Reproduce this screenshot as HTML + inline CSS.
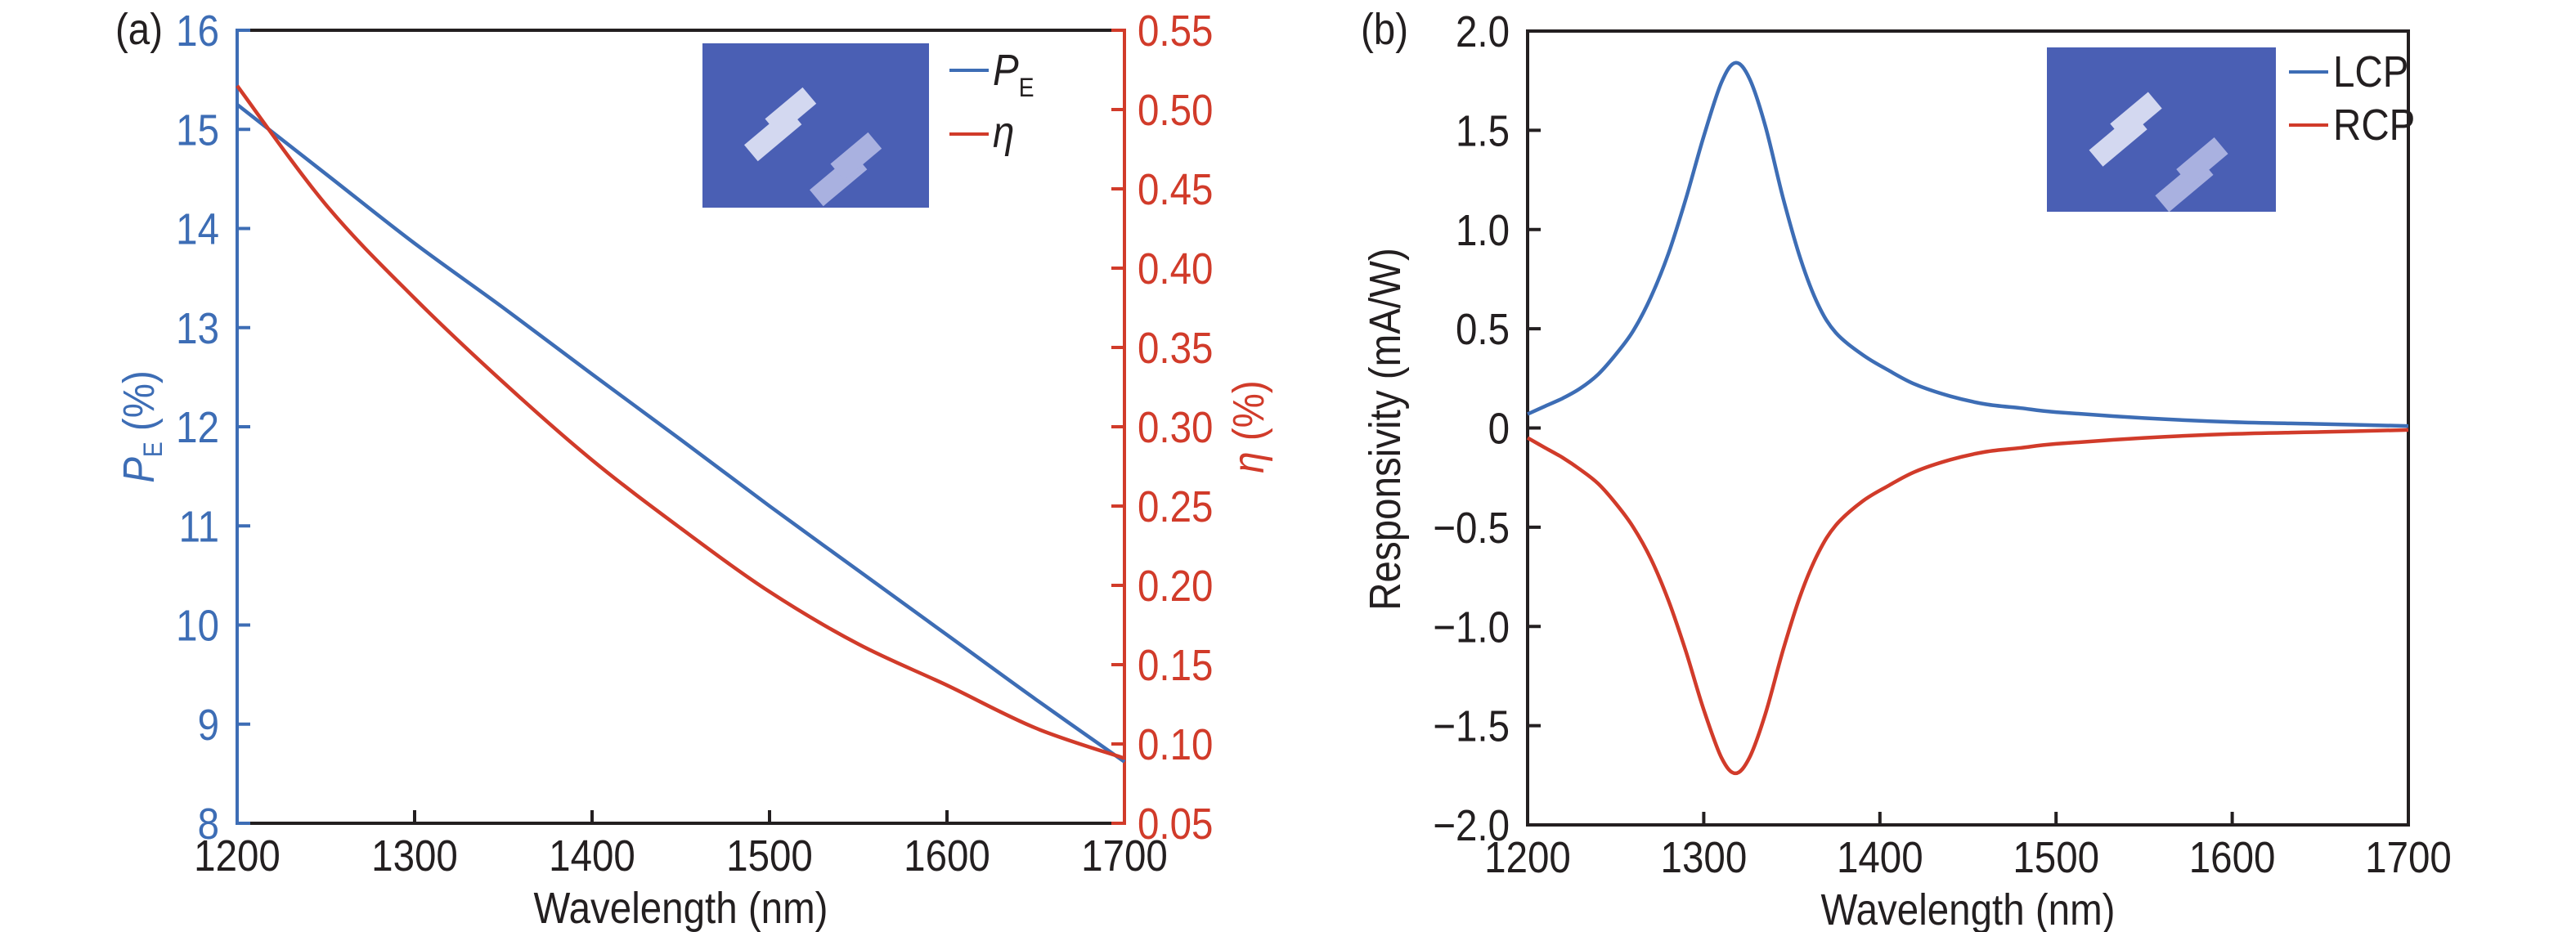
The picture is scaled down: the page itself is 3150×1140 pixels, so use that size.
<!DOCTYPE html>
<html><head><meta charset="utf-8"><style>
html,body{margin:0;padding:0;background:#fff;}
svg{display:block;font-family:"Liberation Sans Narrow","Liberation Sans",sans-serif;}
</style></head><body>
<svg id="fig" width="3150" height="1140" viewBox="0 0 3150 1140" xmlns="http://www.w3.org/2000/svg">
<g id="pa"></g>
<g id="pb"></g>
</svg>
<script>
// Panel (a) data
const wlA = [1200,1250,1300,1350,1400,1450,1500,1550,1600,1650,1700];
const peValues = [15.25,14.55,13.85,13.2,12.53,11.87,11.2,10.55,9.9,9.25,8.62];
const etaValues = [0.515,0.44,0.381,0.328,0.279,0.236,0.196,0.163,0.137,0.11,0.091];
const xTicks = [1200,1300,1400,1500,1600,1700];
const peTicks = [8,9,10,11,12,13,14,15,16];
const etaTicks = [0.05,0.10,0.15,0.20,0.25,0.30,0.35,0.40,0.45,0.50,0.55];
// Panel (b) data
const wlB = [1200,1210,1220,1230,1240,1250,1260,1270,1280,1290,1300,1310,1318,1326,1335,1345,1355,1365,1375,1390,1405,1420,1440,1460,1480,1500,1550,1600,1650,1700];
const lcpValues = [0.07,0.11,0.15,0.20,0.27,0.37,0.49,0.66,0.88,1.16,1.47,1.74,1.84,1.76,1.52,1.16,0.85,0.62,0.48,0.37,0.29,0.22,0.16,0.12,0.10,0.08,0.05,0.03,0.02,0.01];
const rcpValues = [-0.05,-0.10,-0.15,-0.21,-0.28,-0.38,-0.50,-0.66,-0.87,-1.13,-1.42,-1.66,-1.74,-1.66,-1.44,-1.12,-0.84,-0.63,-0.49,-0.37,-0.29,-0.22,-0.16,-0.12,-0.10,-0.08,-0.05,-0.03,-0.02,-0.01];
const respTicks = [-2.0,-1.5,-1.0,-0.5,0,0.5,1.0,1.5,2.0];
const respLabels = ["\u22122.0","\u22121.5","\u22121.0","\u22120.5","0","0.5","1.0","1.5","2.0"];

const NS="http://www.w3.org/2000/svg";
const BLUE="#3d6db5", RED="#d13b2a", BLK="#231f20";
const SX=0.88;
function mk(parent,tag,attrs,text){const e=document.createElementNS(NS,tag);for(const k in attrs)e.setAttribute(k,attrs[k]);if(text!==undefined)e.textContent=text;parent.appendChild(e);return e;}
function txt(parent,x,y,anchor,fill,content,rot){
  const w=mk(parent,'g',{transform:`translate(${x},${y})`+(rot?' rotate(-90)':'')+` scale(${SX},1)`});
  return mk(w,'text',{x:0,y:0,'text-anchor':anchor,'font-size':54,fill:fill},content);
}
function lin(d0,d1,r0,r1){return v=>r0+(v-d0)*(r1-r0)/(d1-d0);}
function smoothPath(xs,ys,fx,fy){
  const p=xs.map((x,i)=>[fx(x),fy(ys[i])]);
  let d=`M${p[0][0].toFixed(1)},${p[0][1].toFixed(1)}`;
  for(let i=0;i<p.length-1;i++){
    const p0=p[i-1]||p[i],p1=p[i],p2=p[i+1],p3=p[i+2]||p2;
    const c1=[p1[0]+(p2[0]-p0[0])/6,p1[1]+(p2[1]-p0[1])/6];
    const c2=[p2[0]-(p3[0]-p1[0])/6,p2[1]-(p3[1]-p1[1])/6];
    d+=`C${c1[0].toFixed(1)},${c1[1].toFixed(1)} ${c2[0].toFixed(1)},${c2[1].toFixed(1)} ${p2[0].toFixed(1)},${p2[1].toFixed(1)}`;
  }
  return d;
}
function inset(g,x,y,w,h){
  const r=mk(g,'rect',{x:x,y:y,width:w,height:h,fill:'#4a5fb4'});
  
  
  const s=w/277;
  const bars=[[x+60*s,y+135*s],[x+140*s,y+190*s]];
  bars.forEach((b,i)=>{
    const gg=mk(g,'g',{transform:`translate(${b[0]},${b[1]}) rotate(-40)`});
    
    
    mk(gg,'rect',{x:0,y:-14*s,width:70*s,height:26*s,fill:i?'#a9b1e0':'#d3d8f0'});
    mk(gg,'rect',{x:40*s,y:-22*s,width:60*s,height:26*s,fill:i?'#a9b1e0':'#d3d8f0'});
  });
}
function xAxis(g,L,R,T,B,fx,title){
  xTicks.forEach(v=>{
    const x=fx(v);
    if(v>xTicks[0]&&v<xTicks[xTicks.length-1]){const t=mk(g,'line',{x1:x,x2:x,y1:B,y2:B-16,stroke:BLK,'stroke-width':4});
      }
    const l=txt(g,x,B+58,'middle',BLK,v);
    
  });
  const t=txt(g,(L+R)/2,B+122,'middle',BLK,title);
  
}
// ---------- Panel a ----------
(function(){
  const g=document.getElementById('pa');
  const L=290,R=1375,T=37,B=1007;
  const fx=lin(1200,1700,L,R), fy=lin(8,16,B,T), fe=lin(0.05,0.55,B,T);
  inset(g,859,53,277,201);
  const top=mk(g,'line',{x1:L,x2:R,y1:T,y2:T,stroke:BLK,'stroke-width':4});
  const bot=mk(g,'line',{x1:L,x2:R,y1:B,y2:B,stroke:BLK,'stroke-width':4});
  const la=mk(g,'line',{x1:L,x2:L,y1:T-2,y2:B+2,stroke:BLUE,'stroke-width':4});
  const ra=mk(g,'line',{x1:R,x2:R,y1:T-2,y2:B+2,stroke:RED,'stroke-width':4});
  peTicks.forEach(v=>{const y=fy(v);
    const t=mk(g,'line',{x1:L,x2:L+16,y1:y,y2:y,stroke:BLUE,'stroke-width':4});
    const l=txt(g,L-22,y+19,'end',BLUE,v);});
  etaTicks.forEach(v=>{const y=fe(v);
    const t=mk(g,'line',{x1:R,x2:R-16,y1:y,y2:y,stroke:RED,'stroke-width':4});
    const l=txt(g,R+16,y+19,'start',RED,v.toFixed(2));});
  xAxis(g,L,R,T,B,fx,'Wavelength (nm)');
  const pe=mk(g,'path',{d:smoothPath(wlA,peValues,fx,fy),fill:'none',stroke:BLUE,'stroke-width':4.5});
  const et=mk(g,'path',{d:smoothPath(wlA,etaValues,fx,fe),fill:'none',stroke:RED,'stroke-width':4.5});
  const yt=txt(g,188,522,'middle',BLUE,'',true);
  
  yt.innerHTML='<tspan font-style="italic">P</tspan><tspan font-size="32" dy="10">E</tspan><tspan dy="-10"> (%)</tspan>';
  const yt2=txt(g,1545,522,'middle',RED,'',true);
  
  yt2.innerHTML='<tspan font-style="italic">η</tspan> (%)';
  const l1=mk(g,'line',{x1:1161,x2:1209,y1:86,y2:86,stroke:BLUE,'stroke-width':4});
  const t1=txt(g,1214,104,'start',BLK,'');
  t1.innerHTML='<tspan font-style="italic">P</tspan><tspan font-size="32" dy="14">E</tspan>';
  const l2=mk(g,'line',{x1:1161,x2:1209,y1:164,y2:164,stroke:RED,'stroke-width':4});
  const t2=txt(g,1214,180,'start',BLK,'η');t2.setAttribute('font-style','italic');
  const pl=txt(g,170,54,'middle',BLK,'(a)');
})();
// ---------- Panel b ----------
(function(){
  const g=document.getElementById('pb');
  const L=1868,R=2945,T=38,B=1009;
  const fx=lin(1200,1700,L,R), fy=lin(-2,2,B,T);
  inset(g,2503,58,280,201);
  const frame=mk(g,'rect',{x:L,y:T,width:R-L,height:B-T,fill:'none',stroke:BLK,'stroke-width':4});
  respTicks.forEach((v,i)=>{const y=fy(v);
    const t=mk(g,'line',{x1:L,x2:L+16,y1:y,y2:y,stroke:BLK,'stroke-width':4});
    const l=txt(g,L-22,y+19,'end',BLK,respLabels[i]);});
  xAxis(g,L,R,T,B,fx,'Wavelength (nm)');
  const lc=mk(g,'path',{d:smoothPath(wlB,lcpValues,fx,fy),fill:'none',stroke:BLUE,'stroke-width':4.5});
  const rc=mk(g,'path',{d:smoothPath(wlB,rcpValues,fx,fy),fill:'none',stroke:RED,'stroke-width':4.5});
  const yt=txt(g,1712,525,'middle',BLK,'Responsivity (mA/W)',true);
  
  const l1=mk(g,'line',{x1:2799,x2:2847,y1:88,y2:88,stroke:BLUE,'stroke-width':4});
  const t1=txt(g,2853,106,'start',BLK,'LCP');
  const l2=mk(g,'line',{x1:2799,x2:2847,y1:153,y2:153,stroke:RED,'stroke-width':4});
  const t2=txt(g,2853,171,'start',BLK,'RCP');
  const pl=txt(g,1693,54,'middle',BLK,'(b)');
})();
</script>
</body></html>
